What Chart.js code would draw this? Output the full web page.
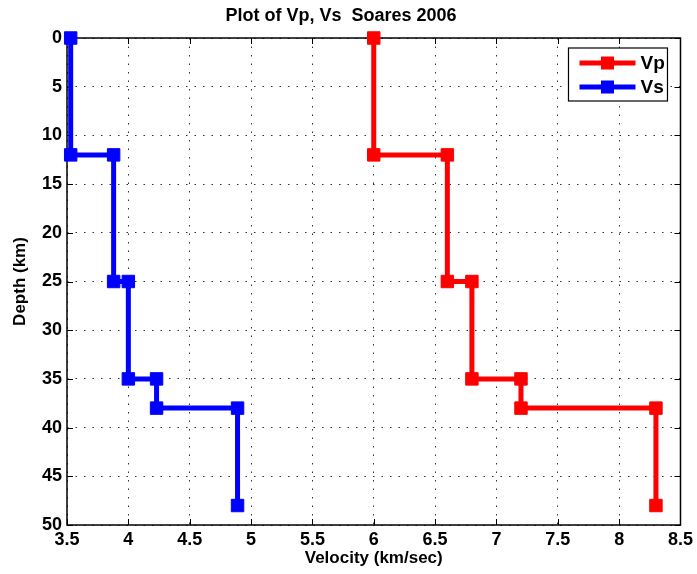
<!DOCTYPE html>
<html>
<head>
<meta charset="utf-8">
<script src="https://cdn.jsdelivr.net/npm/chart.js@4/dist/chart.umd.min.js"></script>
<style>
  html, body { margin: 0; padding: 0; background: #fff; }
  #wrap { width: 697px; height: 574px; }
</style>
</head>
<body>
<div id="wrap"><canvas id="c" width="697" height="574"></canvas></div>
<script>
// Layer depths (km), each layer top and bottom listed in turn
const depths = [0, 12, 12, 25, 25, 35, 35, 38, 38, 48];
// P-wave velocity (km/sec)
const vp = [6.0, 6.0, 6.6, 6.6, 6.8, 6.8, 7.2, 7.2, 8.3, 8.3];
// S-wave velocity (km/sec)
const vs = [3.53, 3.53, 3.88, 3.88, 4.0, 4.0, 4.23, 4.23, 4.89, 4.89];
const seriesNames = ['Vp', 'Vs'];
const seriesColors = ['#ff0000', '#0000ff'];

const FONT = "'Liberation Sans Narrow', 'Arial Narrow', 'Liberation Sans', Arial, sans-serif";

function toPoints(vals) {
  return vals.map((v, i) => ({ x: v, y: depths[i] }));
}

// Box around the plot area with inward tick marks on all four sides
const boxPlugin = {
  id: 'box',
  beforeDatasetsDraw(chart) {
    const { ctx, chartArea: a, scales } = chart;
    ctx.save();
    ctx.strokeStyle = '#000';
    ctx.lineWidth = 1;
    const L = 6;
    ctx.beginPath();
    scales.x.ticks.forEach(t => {
      const px = Math.round(scales.x.getPixelForValue(t.value)) + 0.5;
      ctx.moveTo(px, a.bottom); ctx.lineTo(px, a.bottom - L);
      ctx.moveTo(px, a.top); ctx.lineTo(px, a.top + L);
    });
    scales.y.ticks.forEach(t => {
      const py = Math.round(scales.y.getPixelForValue(t.value)) + 0.5;
      ctx.moveTo(a.left, py); ctx.lineTo(a.left + L, py);
      ctx.moveTo(a.right, py); ctx.lineTo(a.right - L, py);
    });
    ctx.stroke();
    ctx.lineWidth = 1.5;
    ctx.strokeRect(a.left, a.top, a.right - a.left, a.bottom - a.top);
    ctx.restore();
  }
};

// Boxed legend in the upper right of the plot area
const legendPlugin = {
  id: 'boxLegend',
  afterDraw(chart) {
    const { ctx, chartArea: a } = chart;
    const bx = a.right - 112, by = a.top + 10, bw = 99, bh = 53;
    ctx.save();
    ctx.fillStyle = '#fff';
    ctx.fillRect(bx, by, bw, bh);
    ctx.strokeStyle = '#000';
    ctx.lineWidth = 1.2;
    ctx.strokeRect(bx, by, bw, bh);
    chart.data.datasets.forEach((ds, i) => {
      const y = by + 15 + i * 24;
      ctx.strokeStyle = ds.borderColor;
      ctx.lineWidth = 5;
      ctx.beginPath();
      ctx.moveTo(bx + 11, y); ctx.lineTo(bx + 67, y);
      ctx.stroke();
      ctx.fillStyle = ds.borderColor;
      ctx.fillRect(bx + 39 - 6.5, y - 6.5, 13, 13);
      ctx.fillStyle = '#000';
      ctx.font = 'bold 19px ' + FONT;
      ctx.textBaseline = 'middle';
      ctx.textAlign = 'left';
      ctx.fillText(ds.label, bx + 72, y + 1);
    });
    ctx.restore();
  }
};

new Chart(document.getElementById('c'), {
  type: 'scatter',
  data: {
    datasets: [vp, vs].map((vals, i) => ({
      label: seriesNames[i],
      data: toPoints(vals),
      showLine: true,
      clip: false,
      borderColor: seriesColors[i],
      backgroundColor: seriesColors[i],
      borderWidth: 5,
      pointStyle: 'rect',
      pointRadius: 8.8,
      pointBorderWidth: 1,
      pointHoverRadius: 8.8,
      tension: 0
    }))
  },
  options: {
    responsive: false,
    animation: false,
    events: [],
    layout: { padding: { left: 0, right: 15, top: 0, bottom: 0 } },
    plugins: {
      legend: { display: false },
      tooltip: { enabled: false },
      title: {
        display: true,
        text: 'Plot of Vp, Vs  Soares 2006',
        color: '#000',
        font: { family: FONT, size: 18, weight: 'bold', lineHeight: 1.2 },
        padding: { top: 5, bottom: 11.4 }
      }
    },
    scales: {
      x: {
        type: 'linear',
        min: 3.5,
        max: 8.5,
        ticks: {
          stepSize: 0.5,
          color: '#000',
          padding: 4,
          font: { family: FONT, size: 18, weight: 'bold' },
          callback: v => String(v)
        },
        grid: { color: '#333', lineWidth: 1, drawTicks: false },
        border: { display: false, dash: [1.5, 7] },
        title: {
          display: true,
          text: 'Velocity (km/sec)',
          color: '#000',
          font: { family: FONT, size: 17, weight: 'bold', lineHeight: 1.2 },
          padding: { top: 0, bottom: 5 }
        },
        afterFit(s) { s.height = 49; }
      },
      y: {
        type: 'linear',
        reverse: true,
        min: 0,
        max: 50,
        ticks: {
          stepSize: 5,
          color: '#000',
          padding: 5,
          font: { family: FONT, size: 18, weight: 'bold' }
        },
        grid: { color: '#333', lineWidth: 1, drawTicks: false },
        border: { display: false, dash: [1.5, 7] },
        title: {
          display: true,
          text: 'Depth (km)',
          color: '#000',
          font: { family: FONT, size: 17, weight: 'bold', lineHeight: 1.2 },
          padding: { top: 10, bottom: 0 }
        },
        afterFit(s) { s.width = 67; }
      }
    }
  },
  plugins: [boxPlugin, legendPlugin]
});
</script>
</body>
</html>
